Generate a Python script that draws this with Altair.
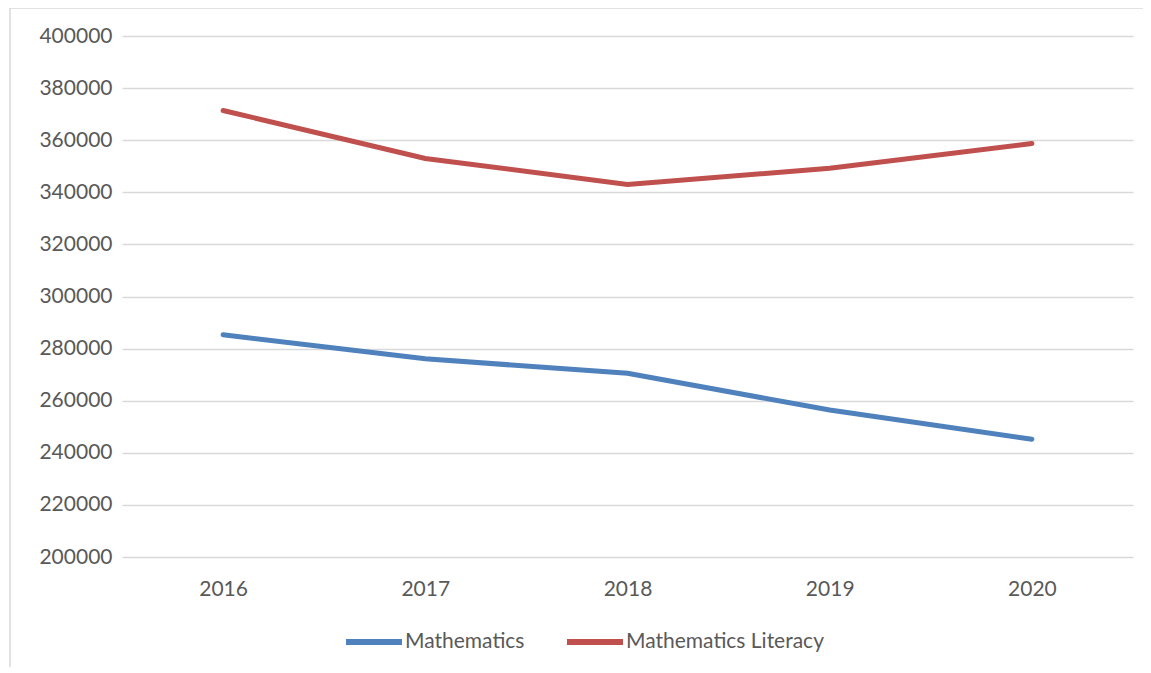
import altair as alt
import pandas as pd

years = ["2016", "2017", "2018", "2019", "2020"]
mathematics = [285300, 276100, 270500, 256400, 245200]
math_literacy = [371400, 353000, 343000, 349200, 358700]
series_names = ["Mathematics", "Mathematics Literacy"]
colors = ["#4f81bd", "#c0504d"]

rows = []
for y, v in zip(years, mathematics):
    rows.append({"Year": y, "Value": v, "Series": series_names[0]})
for y, v in zip(years, math_literacy):
    rows.append({"Year": y, "Value": v, "Series": series_names[1]})
df = pd.DataFrame(rows)

FONT = "Lato"

lines = alt.Chart(df).mark_line(strokeWidth=5, strokeCap="round").encode(
    x=alt.X("Year:O", sort=years,
            scale=alt.Scale(type="point", padding=0.5),
            axis=alt.Axis(title=None, labelAngle=0, domain=False, ticks=False,
                          labelPadding=21, grid=False)),
    y=alt.Y("Value:Q", scale=alt.Scale(domain=[200000, 400000], nice=False),
            axis=alt.Axis(title=None, values=list(range(200000, 400001, 20000)),
                          format="d", domain=False, ticks=False, labelPadding=10,
                          gridColor="#d9d9d9", gridWidth=1.5)),
    color=alt.Color("Series:N", scale=alt.Scale(domain=series_names, range=colors),
                    legend=alt.Legend(title=None, orient="none", direction="horizontal",
                                      legendX=221, legendY=575,
                                      symbolType="stroke", symbolSize=3136,
                                      symbolStrokeWidth=6, labelFontSize=21,
                                      labelFont=FONT, labelColor="#595959",
                                      labelLimit=400,
                                      columnPadding=30, labelOffset=0)),
)

frame = alt.Chart(pd.DataFrame({"f": [0]})).mark_rect(
    filled=False, stroke="#d9d9d9", strokeWidth=1.5
).encode(
    x=alt.value(-112), x2=alt.value(1060),
    y=alt.value(-28), y2=alt.value(660),
)

chart = alt.layer(frame, lines).properties(
    width=1011, height=521,
    autosize=alt.AutoSizeParams(type="none"),
    padding={"left": 114, "top": 28, "right": 10, "bottom": 110},
    background="white",
).configure_view(stroke=None).configure_axis(
    labelFont=FONT, labelFontSize=21, labelColor="#595959"
)

chart.save("out.html", embed_options={"renderer": "svg", "actions": False})
